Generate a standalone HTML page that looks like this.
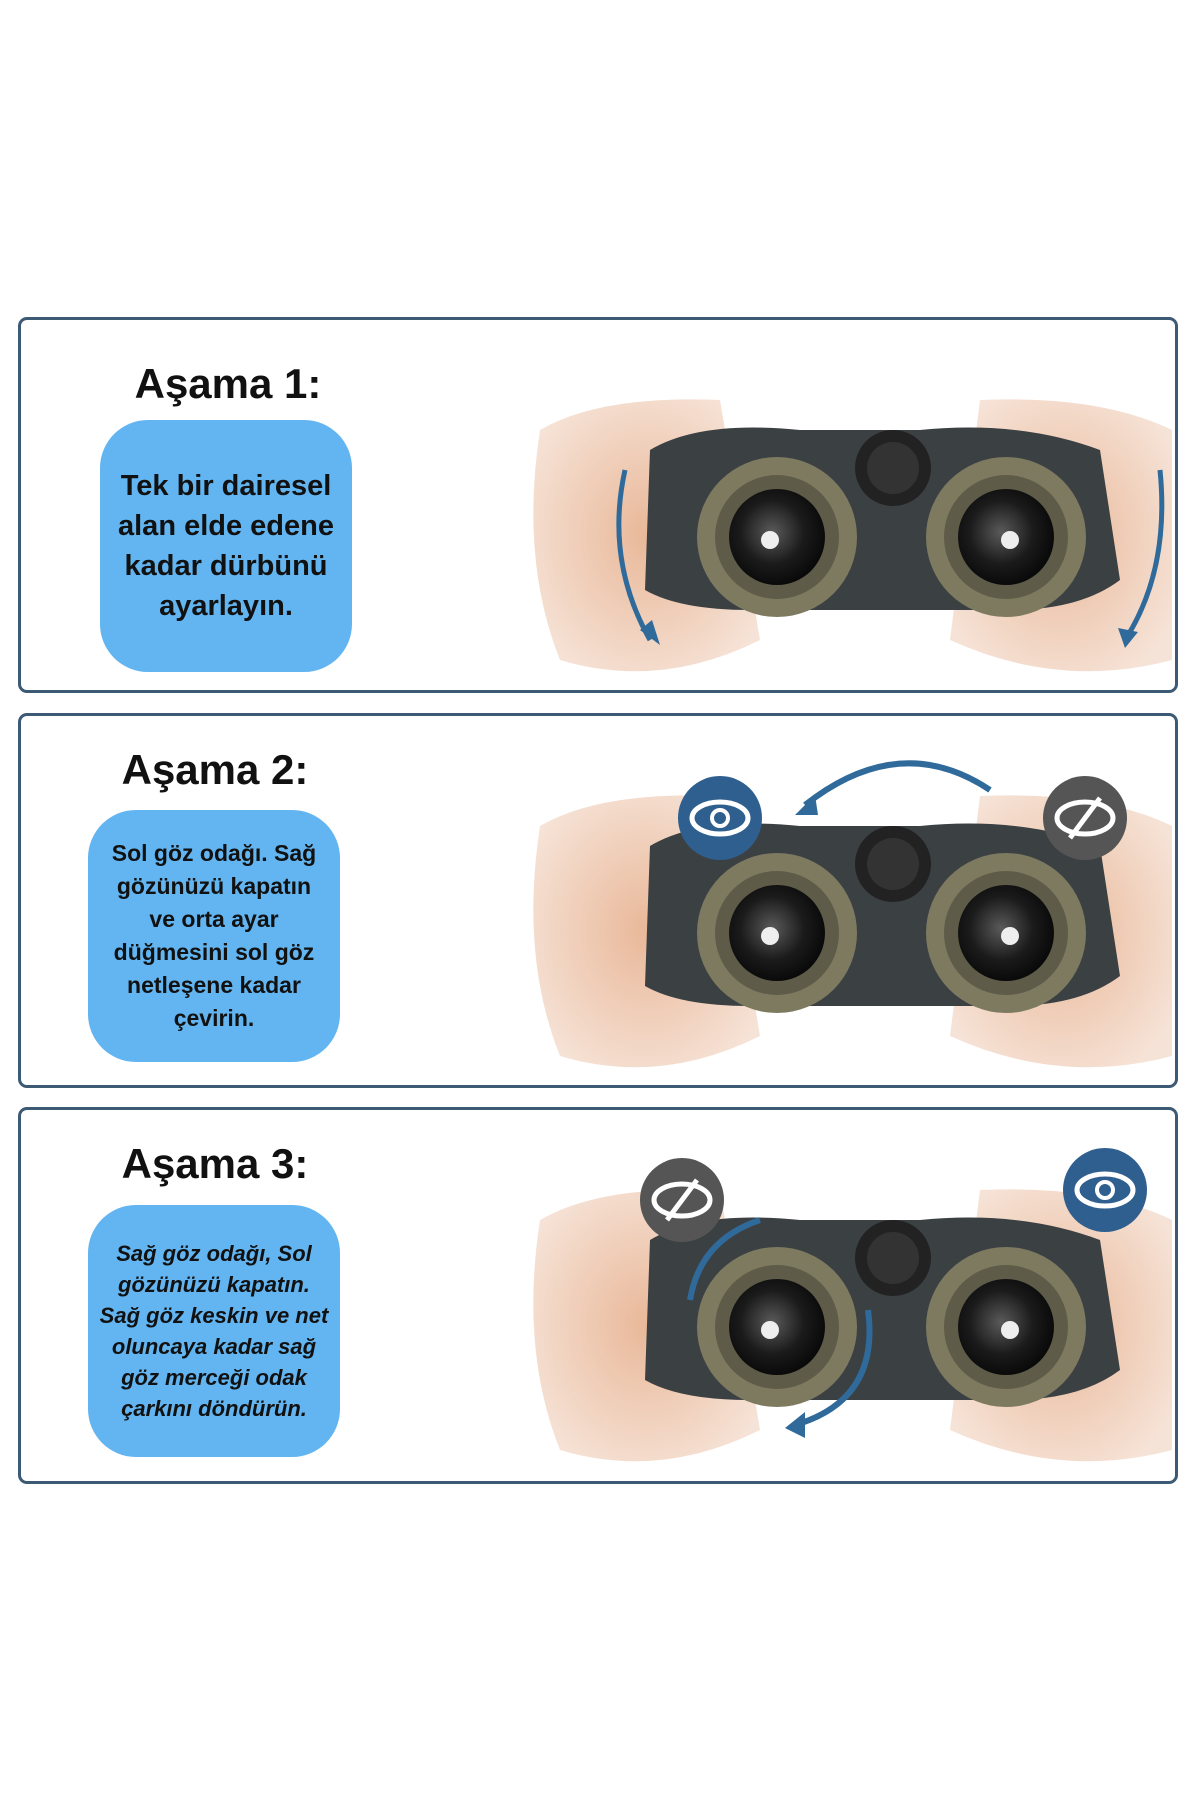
<!DOCTYPE html>
<html><head><meta charset="utf-8">
<style>
html,body{margin:0;padding:0;background:#fff;}
body{width:1200px;height:1800px;position:relative;overflow:hidden;font-family:"Liberation Sans","DejaVu Sans",sans-serif;}
.panel{position:absolute;left:18px;width:1160px;border:3px solid #3d5a74;border-radius:9px;background:#fff;box-sizing:border-box;}
.title{position:absolute;font-weight:bold;font-size:42px;color:#111;text-align:center;width:300px;}
.box{position:absolute;background:#62b5f1;border-radius:48px;display:flex;align-items:center;justify-content:center;text-align:center;color:#111;font-weight:bold;box-sizing:border-box;padding:0 4px;white-space:nowrap;}
svg{position:absolute;left:0;top:0;}
</style></head><body>

<div class="panel" style="top:317px;height:376px;"></div>
<div class="panel" style="top:713px;height:375px;"></div>
<div class="panel" style="top:1107px;height:377px;"></div>

<div class="title" style="left:78px;top:360px;">Aşama 1:</div>
<div class="box" style="left:100px;top:420px;width:252px;height:252px;font-size:29px;line-height:40px;">Tek bir dairesel<br>alan elde edene<br>kadar dürbünü<br>ayarlayın.</div>

<div class="title" style="left:65px;top:746px;">Aşama 2:</div>
<div class="box" style="left:88px;top:810px;width:252px;height:252px;font-size:23px;line-height:33px;">Sol göz odağı. Sağ<br>gözünüzü kapatın<br>ve orta ayar<br>düğmesini sol göz<br>netleşene kadar<br>çevirin.</div>

<div class="title" style="left:65px;top:1140px;">Aşama 3:</div>
<div class="box" style="left:88px;top:1205px;width:252px;height:252px;font-size:22px;line-height:31px;font-style:italic;">Sağ göz odağı, Sol<br>gözünüzü kapatın.<br>Sağ göz keskin ve net<br>oluncaya kadar sağ<br>göz merceği odak<br>çarkını döndürün.</div>

<svg width="1200" height="1800" viewBox="0 0 1200 1800">
<defs>
<radialGradient id="skin" cx="50%" cy="50%" r="60%"><stop offset="0" stop-color="#e9b899"/><stop offset="1" stop-color="#f6e3d7"/></radialGradient>
<radialGradient id="lens" cx="45%" cy="45%" r="55%"><stop offset="0" stop-color="#5a5a5a"/><stop offset="0.6" stop-color="#1b1b1b"/><stop offset="1" stop-color="#0a0a0a"/></radialGradient>
<g id="bino">
 <path d="M540 430 Q600 395 720 400 L760 640 Q660 690 560 660 Q520 560 540 430Z" fill="url(#skin)"/>
 <path d="M1172 430 Q1100 395 980 400 L950 640 Q1060 690 1172 660Z" fill="url(#skin)"/>
 <path d="M650 450 Q700 420 800 430 L920 430 Q1020 420 1100 450 L1120 580 Q1080 610 1010 610 L750 610 Q680 610 645 590Z" fill="#3b4043"/>
 <circle cx="893" cy="468" r="38" fill="#222"/>
 <circle cx="893" cy="468" r="26" fill="#333"/>
 <circle cx="777" cy="537" r="80" fill="#7d7a60"/>
 <circle cx="777" cy="537" r="62" fill="#5e5c48"/>
 <circle cx="777" cy="537" r="48" fill="url(#lens)"/>
 <circle cx="770" cy="540" r="9" fill="#eee"/>
 <circle cx="1006" cy="537" r="80" fill="#7d7a60"/>
 <circle cx="1006" cy="537" r="62" fill="#5e5c48"/>
 <circle cx="1006" cy="537" r="48" fill="url(#lens)"/>
 <circle cx="1010" cy="540" r="9" fill="#eee"/>
</g>
</defs>
<use href="#bino"/>
<use href="#bino" transform="translate(0,396)"/>
<use href="#bino" transform="translate(0,790)"/>

<path d="M625 470 Q605 560 650 640" stroke="#2f6a9a" stroke-width="5" fill="none"/>
<polygon points="640,630 660,645 652,620" fill="#2f6a9a"/>
<path d="M1160 470 Q1170 570 1125 640" stroke="#2f6a9a" stroke-width="5" fill="none"/>
<polygon points="1118,628 1125,648 1138,632" fill="#2f6a9a"/>

<path d="M990 790 Q900 730 805 805" stroke="#2f6a9a" stroke-width="6" fill="none"/>
<polygon points="795,815 815,795 818,815" fill="#2f6a9a"/>
<circle cx="720" cy="818" r="42" fill="#2f5f8f"/>
<ellipse cx="720" cy="818" rx="28" ry="16" fill="none" stroke="#fff" stroke-width="5"/>
<circle cx="720" cy="818" r="8" fill="none" stroke="#fff" stroke-width="4"/>
<circle cx="1085" cy="818" r="42" fill="#555"/>
<ellipse cx="1085" cy="818" rx="28" ry="16" fill="none" stroke="#fff" stroke-width="5"/>
<line x1="1070" y1="838" x2="1100" y2="798" stroke="#fff" stroke-width="5"/>

<circle cx="682" cy="1200" r="42" fill="#555"/>
<ellipse cx="682" cy="1200" rx="28" ry="16" fill="none" stroke="#fff" stroke-width="5"/>
<line x1="667" y1="1220" x2="697" y2="1180" stroke="#fff" stroke-width="5"/>
<circle cx="1105" cy="1190" r="42" fill="#2f5f8f"/>
<ellipse cx="1105" cy="1190" rx="28" ry="16" fill="none" stroke="#fff" stroke-width="5"/>
<circle cx="1105" cy="1190" r="8" fill="none" stroke="#fff" stroke-width="4"/>
<path d="M690 1300 Q700 1240 760 1220" stroke="#2f6a9a" stroke-width="6" fill="none"/>
<path d="M868 1310 Q880 1400 795 1425" stroke="#2f6a9a" stroke-width="6" fill="none"/>
<polygon points="785,1428 805,1412 805,1438" fill="#2f6a9a"/>
</svg>
</body></html>
